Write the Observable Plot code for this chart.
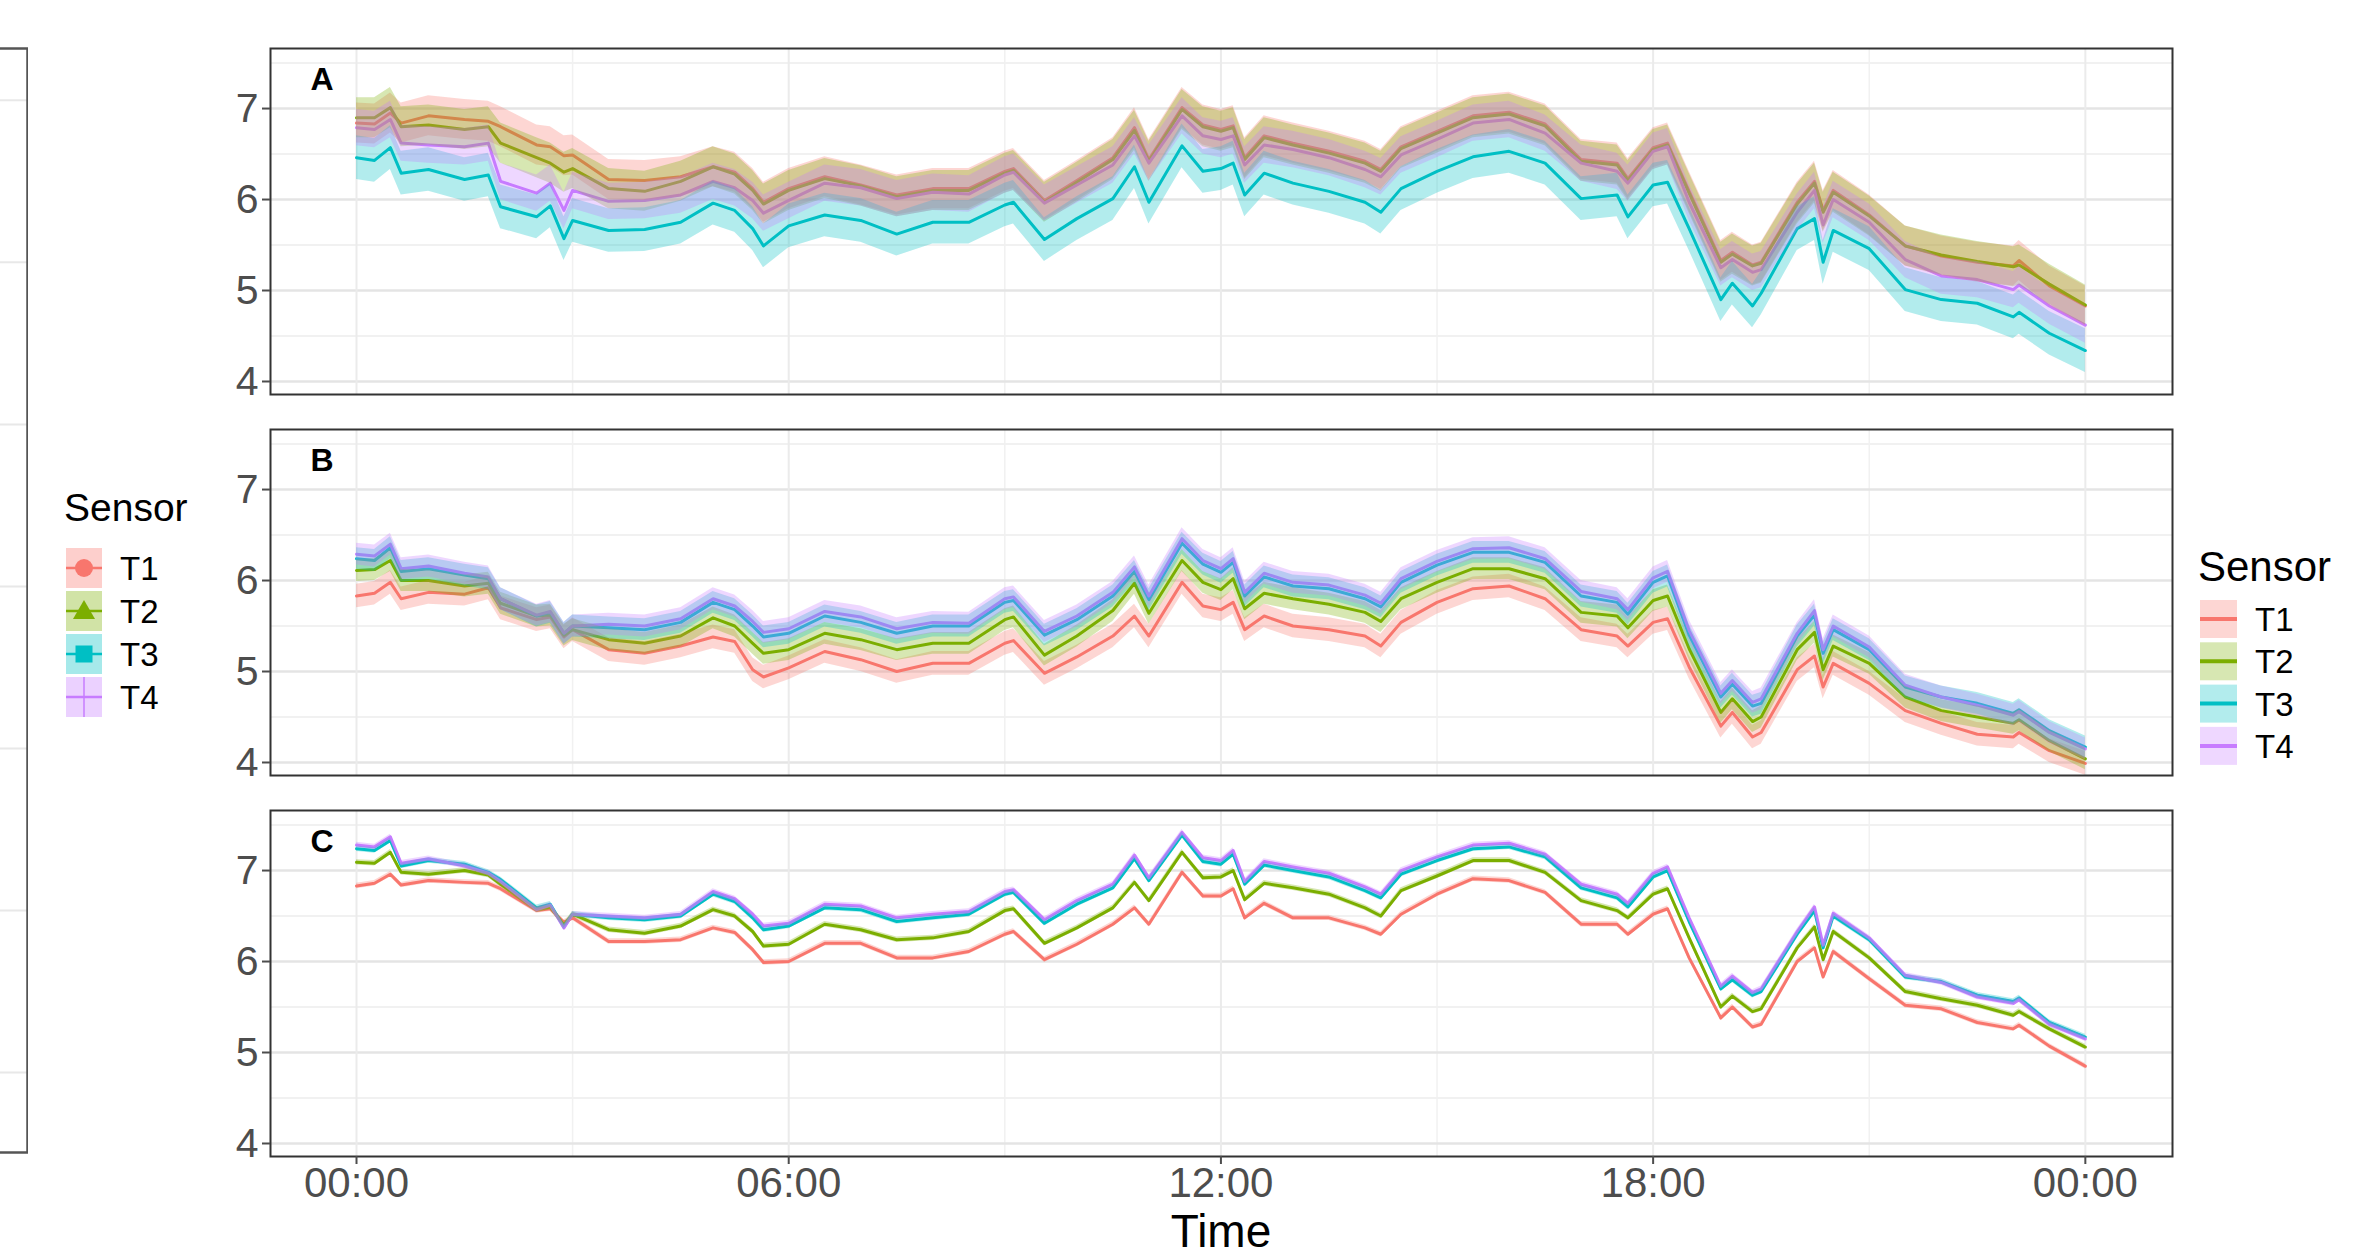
<!DOCTYPE html>
<html>
<head>
<meta charset="utf-8">
<script src="https://cdn.jsdelivr.net/npm/d3@7"></script>
<script src="https://cdn.jsdelivr.net/npm/@observablehq/plot@0.6"></script>
<style>
  body { margin: 0; background: #fff; }
  #page { position: relative; width: 2378px; height: 1258px; overflow: hidden; background: #fff;
          font-family: "Liberation Sans", Arial, sans-serif; }
  #edge, #main, #keys { position: absolute; top: 0; }
  #edge { left: -20px; }
  #main { left: 0; }
  #keys { left: 0; pointer-events: none; }
</style>
</head>
<body>
<div id="page">
  <div id="edge"></div>
  <div id="main"></div>
  <svg id="keys" width="2378" height="1258"></svg>
</div>
<script>
// Sample times, in hours after midnight
const hours = [0, 0.25, 0.47, 0.62, 1, 1.5, 1.83, 2, 2.5, 2.69, 2.88, 3, 3.5, 4, 4.5, 4.95, 5.25, 5.5, 5.65, 6,
  6.5, 7, 7.5, 8, 8.5, 9, 9.12, 9.55, 10, 10.5, 10.8, 11, 11.46, 11.75, 12, 12.17, 12.33, 12.6, 13, 13.5,
  14, 14.22, 14.5, 15, 15.5, 16, 16.5, 17, 17.5, 17.65, 18, 18.2, 18.5, 18.94, 19.1, 19.38, 19.5, 20, 20.24, 20.36,
  20.5, 21, 21.5, 22, 22.5, 23, 23.08, 23.5, 24];

const panels = ["A", "B", "C"];
const sensors = ["T1", "T2", "T3", "T4"];
const sensorColors = ["#F8766D", "#7CAE00", "#00BFC4", "#C77CFF"];

// Panel A
const aT1 = [6.84, 6.83, 6.95, 6.84, 6.92, 6.88, 6.86, 6.80, 6.60, 6.58, 6.48, 6.49, 6.22, 6.21, 6.25, 6.36, 6.30, 6.12, 5.97, 6.12,
  6.25, 6.16, 6.05, 6.12, 6.12, 6.31, 6.34, 5.99, 6.21, 6.46, 6.79, 6.44, 7.01, 6.82, 6.77, 6.81, 6.46, 6.70, 6.62, 6.53,
  6.42, 6.33, 6.58, 6.75, 6.92, 6.96, 6.83, 6.44, 6.40, 6.23, 6.57, 6.62, 6.09, 5.33, 5.42, 5.28, 5.31, 5.97, 6.20, 5.88,
  6.10, 5.83, 5.49, 5.38, 5.31, 5.27, 5.33, 5.05, 4.83];
const aT2 = [6.90, 6.90, 7.01, 6.80, 6.82, 6.77, 6.80, 6.62, 6.46, 6.40, 6.30, 6.34, 6.12, 6.09, 6.20, 6.36, 6.28, 6.10, 5.95, 6.10,
  6.23, 6.15, 6.03, 6.10, 6.10, 6.29, 6.32, 5.97, 6.19, 6.44, 6.76, 6.42, 6.99, 6.80, 6.75, 6.79, 6.44, 6.68, 6.60, 6.51,
  6.40, 6.31, 6.56, 6.73, 6.90, 6.94, 6.81, 6.42, 6.38, 6.21, 6.55, 6.60, 6.07, 5.31, 5.40, 5.27, 5.30, 5.95, 6.18, 5.86,
  6.08, 5.82, 5.49, 5.39, 5.32, 5.26, 5.28, 5.07, 4.84];
const aT3 = [6.46, 6.43, 6.57, 6.29, 6.33, 6.22, 6.27, 5.92, 5.81, 5.93, 5.57, 5.77, 5.66, 5.67, 5.75, 5.96, 5.88, 5.68, 5.49, 5.71,
  5.83, 5.77, 5.62, 5.75, 5.75, 5.94, 5.97, 5.56, 5.79, 6.01, 6.36, 5.97, 6.59, 6.31, 6.34, 6.40, 6.05, 6.29, 6.18, 6.09,
  5.97, 5.86, 6.12, 6.31, 6.47, 6.53, 6.40, 6.01, 6.05, 5.81, 6.16, 6.19, 5.68, 4.90, 5.08, 4.83, 4.97, 5.68, 5.79, 5.31,
  5.66, 5.46, 5.01, 4.90, 4.86, 4.71, 4.76, 4.53, 4.34];
const aT4 = [6.79, 6.77, 6.88, 6.62, 6.60, 6.58, 6.62, 6.20, 6.07, 6.18, 5.88, 6.10, 5.98, 5.99, 6.05, 6.20, 6.13, 5.99, 5.85, 5.99,
  6.18, 6.13, 6.01, 6.08, 6.06, 6.27, 6.30, 5.96, 6.16, 6.38, 6.70, 6.40, 6.92, 6.70, 6.66, 6.70, 6.38, 6.60, 6.55, 6.46,
  6.33, 6.25, 6.49, 6.66, 6.84, 6.88, 6.73, 6.40, 6.31, 6.18, 6.53, 6.58, 5.97, 5.25, 5.34, 5.20, 5.23, 5.86, 6.10, 5.72,
  6.00, 5.75, 5.34, 5.16, 5.12, 5.01, 5.06, 4.83, 4.62];

// Panel B
const bT1 = [5.83, 5.86, 5.98, 5.80, 5.87, 5.85, 5.92, 5.70, 5.57, 5.60, 5.38, 5.46, 5.24, 5.20, 5.28, 5.38, 5.33, 5.02, 4.94, 5.04,
  5.22, 5.13, 5.00, 5.09, 5.09, 5.31, 5.34, 4.98, 5.16, 5.39, 5.61, 5.39, 5.98, 5.72, 5.68, 5.76, 5.46, 5.61, 5.50, 5.46,
  5.39, 5.28, 5.54, 5.76, 5.91, 5.94, 5.80, 5.46, 5.39, 5.28, 5.54, 5.58, 5.05, 4.40, 4.55, 4.28, 4.33, 5.02, 5.17, 4.83,
  5.09, 4.87, 4.57, 4.43, 4.31, 4.28, 4.33, 4.13, 3.99];
const bT2 = [6.11, 6.12, 6.22, 6.00, 6.00, 5.94, 5.97, 5.75, 5.61, 5.62, 5.40, 5.46, 5.35, 5.31, 5.39, 5.59, 5.50, 5.31, 5.20, 5.24,
  5.42, 5.35, 5.24, 5.31, 5.31, 5.57, 5.60, 5.18, 5.39, 5.67, 5.97, 5.64, 6.22, 5.98, 5.90, 6.02, 5.69, 5.86, 5.80, 5.74,
  5.65, 5.55, 5.80, 5.98, 6.13, 6.13, 6.02, 5.65, 5.61, 5.48, 5.78, 5.83, 5.25, 4.55, 4.70, 4.45, 4.50, 5.24, 5.43, 5.02,
  5.28, 5.09, 4.72, 4.57, 4.50, 4.43, 4.47, 4.24, 4.04];
const bT3 = [6.24, 6.22, 6.36, 6.10, 6.13, 6.06, 6.02, 5.80, 5.61, 5.65, 5.42, 5.50, 5.48, 5.46, 5.54, 5.76, 5.68, 5.50, 5.38, 5.42,
  5.61, 5.54, 5.42, 5.50, 5.50, 5.76, 5.78, 5.40, 5.57, 5.83, 6.10, 5.79, 6.41, 6.18, 6.09, 6.20, 5.83, 6.04, 5.94, 5.91,
  5.80, 5.71, 5.98, 6.17, 6.31, 6.31, 6.20, 5.83, 5.76, 5.63, 5.98, 6.05, 5.40, 4.72, 4.86, 4.62, 4.65, 5.39, 5.62, 5.20,
  5.46, 5.24, 4.83, 4.72, 4.65, 4.54, 4.58, 4.35, 4.17];
const bT4 = [6.29, 6.27, 6.40, 6.13, 6.16, 6.08, 6.04, 5.80, 5.62, 5.66, 5.42, 5.50, 5.52, 5.50, 5.58, 5.80, 5.72, 5.55, 5.43, 5.47,
  5.66, 5.60, 5.47, 5.54, 5.53, 5.80, 5.82, 5.44, 5.61, 5.87, 6.15, 5.83, 6.46, 6.22, 6.13, 6.24, 5.87, 6.08, 5.98, 5.95,
  5.84, 5.75, 6.02, 6.21, 6.35, 6.36, 6.24, 5.88, 5.80, 5.68, 6.03, 6.10, 5.45, 4.76, 4.90, 4.66, 4.70, 5.42, 5.67, 5.24,
  5.50, 5.27, 4.85, 4.72, 4.63, 4.52, 4.56, 4.33, 4.15];

// Panel C
const cT1 = [6.83, 6.86, 6.96, 6.84, 6.89, 6.87, 6.86, 6.80, 6.56, 6.58, 6.43, 6.48, 6.22, 6.22, 6.24, 6.37, 6.32, 6.13, 5.99, 6.00,
  6.20, 6.20, 6.04, 6.04, 6.11, 6.30, 6.33, 6.02, 6.19, 6.41, 6.59, 6.41, 6.98, 6.72, 6.72, 6.80, 6.48, 6.64, 6.48, 6.48,
  6.37, 6.30, 6.52, 6.74, 6.91, 6.89, 6.76, 6.41, 6.41, 6.30, 6.52, 6.58, 6.04, 5.38, 5.50, 5.28, 5.31, 6.00, 6.15, 5.83,
  6.11, 5.81, 5.52, 5.48, 5.33, 5.26, 5.30, 5.07, 4.85];
const cT2 = [7.09, 7.08, 7.20, 6.98, 6.96, 7.00, 6.95, 6.85, 6.57, 6.60, 6.40, 6.52, 6.35, 6.31, 6.39, 6.57, 6.50, 6.33, 6.17, 6.19,
  6.41, 6.35, 6.24, 6.26, 6.33, 6.56, 6.58, 6.20, 6.37, 6.59, 6.87, 6.67, 7.20, 6.92, 6.93, 7.00, 6.68, 6.86, 6.81, 6.74,
  6.59, 6.50, 6.78, 6.94, 7.11, 7.11, 6.98, 6.67, 6.56, 6.48, 6.74, 6.80, 6.26, 5.50, 5.62, 5.45, 5.48, 6.15, 6.38, 6.02,
  6.33, 6.04, 5.67, 5.59, 5.52, 5.41, 5.45, 5.26, 5.06];
const cT3 = [7.24, 7.22, 7.33, 7.05, 7.11, 7.07, 6.98, 6.90, 6.59, 6.63, 6.38, 6.52, 6.48, 6.46, 6.50, 6.74, 6.66, 6.48, 6.35, 6.39,
  6.59, 6.57, 6.44, 6.48, 6.52, 6.74, 6.76, 6.42, 6.63, 6.81, 7.13, 6.89, 7.39, 7.10, 7.07, 7.18, 6.85, 7.06, 7.00, 6.93,
  6.78, 6.70, 6.96, 7.11, 7.24, 7.26, 7.15, 6.81, 6.70, 6.60, 6.93, 7.00, 6.44, 5.70, 5.80, 5.63, 5.67, 6.30, 6.56, 6.15,
  6.50, 6.24, 5.83, 5.78, 5.63, 5.56, 5.60, 5.33, 5.17];
const cT4 = [7.28, 7.26, 7.37, 7.08, 7.13, 7.05, 6.97, 6.88, 6.57, 6.62, 6.37, 6.52, 6.50, 6.48, 6.52, 6.77, 6.69, 6.52, 6.39, 6.42,
  6.63, 6.61, 6.48, 6.52, 6.55, 6.77, 6.79, 6.46, 6.67, 6.85, 7.17, 6.92, 7.42, 7.14, 7.11, 7.22, 6.88, 7.10, 7.04, 6.97,
  6.82, 6.74, 7.00, 7.15, 7.28, 7.30, 7.18, 6.85, 6.74, 6.64, 6.97, 7.04, 6.48, 5.73, 5.84, 5.66, 5.70, 6.33, 6.60, 6.18,
  6.53, 6.26, 5.85, 5.77, 5.61, 5.54, 5.58, 5.31, 5.15];

// Half-width of each sensor's confidence band, per panel
const bandA = [0.22, 0.22, 0.24, 0.20];
const bandB = [0.13, 0.12, 0.12, 0.12];
const bandC = [0.03, 0.03, 0.03, 0.03];

// Axis ticks
const yTicks = [4, 5, 6, 7];
const yMinorTicks = [4.5, 5.5, 6.5, 7.5];
const xTicks = [0, 6, 12, 18, 24];
const xTickLabels = ["00:00", "06:00", "12:00", "18:00", "00:00"];
const xMinorTicks = [3, 9, 15, 21];
const edgeTicks = [0, 1, 2, 3, 4, 5, 6];
const xTitle = "Time";

// Long-format table: one row per panel, sensor and time
const series = {A: [aT1, aT2, aT3, aT4], B: [bT1, bT2, bT3, bT4], C: [cT1, cT2, cT3, cT4]};
const bands = {A: bandA, B: bandB, C: bandC};
const rows = [];
for (const p of panels) {
  sensors.forEach((s, k) => {
    series[p][k].forEach((v, i) => {
      rows.push({panel: p, sensor: s, hour: hours[i], value: v,
                 lo: v - bands[p][k], hi: v + bands[p][k]});
    });
  });
}

const font = "Liberation Sans, Arial, sans-serif";

// Main faceted chart
const chart = Plot.plot({
  width: 2378,
  height: 1258,
  marginLeft: 270,
  marginRight: 206,
  marginTop: 48,
  marginBottom: 102,
  style: {fontFamily: font, background: "transparent", overflow: "visible"},
  x: {domain: [-1.194, 25.21]},
  y: {domain: [3.857, 7.66]},
  fy: {domain: panels, padding: 0.0919, axis: null},
  color: {domain: sensors, range: sensorColors},
  marks: [
    Plot.ruleY(yMinorTicks, {stroke: "#ededed", strokeWidth: 1.5}),
    Plot.ruleX(xMinorTicks, {stroke: "#f1f1f1", strokeWidth: 1.5}),
    Plot.ruleY(yTicks, {stroke: "#e4e4e4", strokeWidth: 2.5}),
    Plot.ruleX(xTicks, {stroke: "#ebebeb", strokeWidth: 2}),
    Plot.line(rows, {x: "hour", y: "value", z: "sensor", stroke: "sensor", fy: "panel",
                     strokeWidth: 3, strokeLinejoin: "round"}),
    Plot.areaY(rows, {x: "hour", y1: "lo", y2: "hi", z: "sensor", fill: "sensor", fy: "panel",
                      fillOpacity: 0.3}),
    Plot.frame({stroke: "#333", strokeWidth: 2}),
    Plot.text(panels, {fy: d => d, text: d => d, frameAnchor: "top-left", dx: 40, dy: 19,
                       fontSize: 32, fontWeight: "bold", fill: "#000"}),
    Plot.axisY({ticks: yTicks, tickFormat: d => String(d), tickSize: 8, tickPadding: 4, fontSize: 41,
                color: "#4d4d4d", strokeWidth: 2, label: null}),
    Plot.axisX({ticks: xTicks, tickFormat: d => xTickLabels[xTicks.indexOf(d)], tickSize: 8,
                tickPadding: 3, fontSize: 42, color: "#4d4d4d", strokeWidth: 2, label: null})
  ]
});
document.getElementById("main").appendChild(chart);

// Right edge of a neighbouring panel at the far left
const edge = Plot.plot({
  width: 48,
  height: 1258,
  marginLeft: 0,
  marginRight: 1,
  marginTop: 48,
  marginBottom: 106,
  x: {domain: [0, 1], axis: null},
  y: {domain: [-0.494, 6.32], axis: null},
  style: {background: "transparent"},
  marks: [
    Plot.ruleY(edgeTicks, {stroke: "#e8e8e8", strokeWidth: 2}),
    Plot.frame({stroke: "#555", strokeWidth: 2.5})
  ]
});
document.getElementById("edge").appendChild(edge);

// Axis title and legends
const keys = d3.select("#keys").style("font-family", font);

keys.append("text").attr("x", 1221).attr("y", 1247).attr("text-anchor", "middle")
  .attr("font-size", 46).attr("fill", "#000").text(xTitle);

function legend(g, opt) {
  g.append("text").attr("x", opt.x).attr("y", opt.titleBaseline)
    .attr("font-size", opt.titleSize).attr("fill", "#000").text("Sensor");
  sensors.forEach((s, i) => {
    const top = opt.keyTop + i * opt.pitch;
    const cy = top + opt.keyH / 2;
    const cx = opt.x + 2 + opt.keyW / 2;
    const key = g.append("g");
    key.append("rect").attr("x", opt.x + 2).attr("y", top).attr("width", opt.keyW).attr("height", opt.keyH)
      .attr("fill", sensorColors[i]).attr("fill-opacity", opt.fillOpacity);
    key.append("line").attr("x1", opt.x + 2).attr("x2", opt.x + 2 + opt.keyW).attr("y1", cy).attr("y2", cy)
      .attr("stroke", sensorColors[i]).attr("stroke-width", opt.lineW);
    if (opt.shapes) {
      const c = sensorColors[i];
      if (i === 0) key.append("circle").attr("cx", cx).attr("cy", cy).attr("r", 9).attr("fill", c);
      if (i === 1) key.append("path").attr("d", `M${cx},${cy - 11}L${cx + 11},${cy + 8}L${cx - 11},${cy + 8}Z`).attr("fill", c);
      if (i === 2) key.append("rect").attr("x", cx - 8.5).attr("y", cy - 8.5).attr("width", 17).attr("height", 17).attr("fill", c);
      if (i === 3) key.append("line").attr("x1", cx).attr("x2", cx).attr("y1", top).attr("y2", top + opt.keyH)
        .attr("stroke", c).attr("stroke-width", 1.5);
    }
    g.append("text").attr("x", opt.labelX).attr("y", cy + 12).attr("font-size", opt.labelSize)
      .attr("fill", "#000").text(s);
  });
}

legend(keys.append("g"), {x: 64, titleBaseline: 521, titleSize: 39, keyTop: 548, pitch: 43,
  keyW: 36, keyH: 40, fillOpacity: 0.35, lineW: 2.5, labelX: 120, labelSize: 33, shapes: true});
legend(keys.append("g"), {x: 2198, titleBaseline: 581, titleSize: 42, keyTop: 600, pitch: 42.3,
  keyW: 37, keyH: 38, fillOpacity: 0.3, lineW: 4, labelX: 2255, labelSize: 33, shapes: false});
</script>
</body>
</html>
